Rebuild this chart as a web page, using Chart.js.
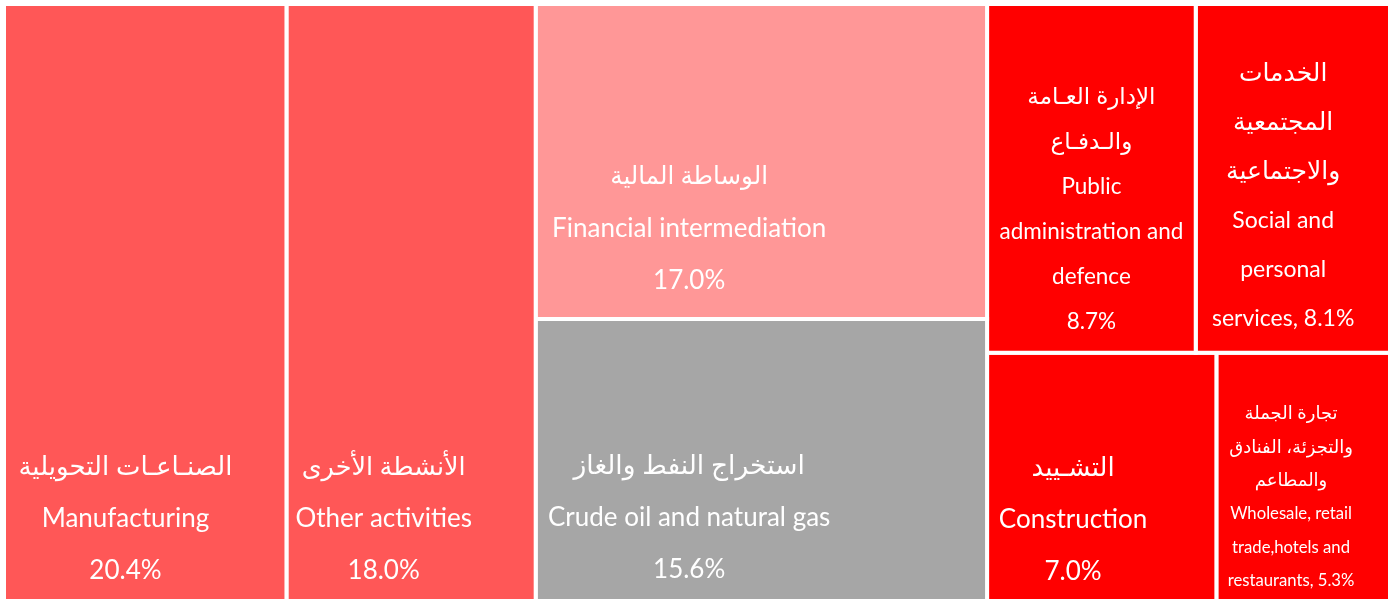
<!DOCTYPE html>
<html>
<head>
<meta charset="utf-8">
<script src="https://cdn.jsdelivr.net/npm/chart.js@4"></script>
<style>
  html, body { margin: 0; padding: 0; background: #ffffff; }
  #wrap { width: 1395px; height: 599px; position: relative; }
</style>
</head>
<body>
<div id="wrap"><canvas id="c"></canvas></div>
<script>
// ---------- data ----------
const categoriesEn = [
  ["Manufacturing"],
  ["Other activities"],
  ["Financial intermediation"],
  ["Crude oil and natural gas"],
  ["Public", "administration and", "defence"],
  ["Social and", "personal", "services,"],
  ["Construction"],
  ["Wholesale, retail", "trade,hotels and", "restaurants,"]
];
const categoriesAr = [
  ["الصنـاعـات التحويلية"],
  ["الأنشطة الأخرى"],
  ["الوساطة المالية"],
  ["استخراج النفط والغاز"],
  ["الإدارة العـامة", "والـدفـاع"],
  ["الخدمات", "المجتمعية", "والاجتماعية"],
  ["التشـييد"],
  ["تجارة الجملة", "والتجزئة، الفنادق", "والمطاعم"]
];
const shares = [20.4, 18.0, 17.0, 15.6, 8.7, 8.1, 7.0, 5.3];
// percentage appended on the last English line (true) or on its own line (false)
const shareInline = [false, false, false, false, false, true, false, true];
// grouping of the tiles: columns, then rows inside a column, then tiles inside a row
const layoutTree = [0, 1, [2, 3], [[4, 5], [6, 7]]];

// ---------- style ----------
const tileColors = ["#FF5757", "#FF5757", "#FF9797", "#A6A6A6", "#FF0000", "#FF0000", "#FF0000", "#FF0000"];
const labelFx = [0.43, 0.39, 0.34, 0.34, 0.50, 0.45, 0.375, 0.43];
const labelFy = [0.852, 0.852, 0.712, 0.687, 0.588, 0.55, 0.653, 0.565];
const lineGap = [52, 52, 52, 52, 45, 49, 52, 33.5];
const fontEn = [26, 26, 26, 26, 22.5, 23, 26, 16.7];
const fontAr = [26, 25.5, 24.5, 26.5, 23, 25, 26, 18];
const FONT = 'Lato, "DejaVu Sans", sans-serif';

// ---------- treemap layout (slice & dice by value sums) ----------
function nodeSum(n) { return Array.isArray(n) ? n.reduce((s, c) => s + nodeSum(c), 0) : shares[n]; }
const tiles = [];
function layout(node, x0, y0, x1, y1, horizontal) {
  if (!Array.isArray(node)) { tiles[node] = { x0, y0, x1, y1 }; return; }
  const total = nodeSum(node);
  let acc = 0;
  node.forEach(child => {
    const a = acc / total, b = (acc + nodeSum(child)) / total;
    acc += nodeSum(child);
    if (horizontal) layout(child, x0 + (x1 - x0) * a, y0, x0 + (x1 - x0) * b, y1, !horizontal);
    else layout(child, x0, y0 + (y1 - y0) * a, x1, y0 + (y1 - y0) * b, !horizontal);
  });
}
layout(layoutTree, 0, 0, 100, 100, true);

const datasets = tiles.map((t, i) => ({
  label: categoriesEn[i].join(' '),
  data: [
    { x: t.x0, y: t.y0 }, { x: t.x1, y: t.y0 }, { x: t.x1, y: t.y1 },
    { x: t.x0, y: t.y1 }, { x: t.x0, y: t.y0 }
  ],
  fill: 'shape',
  clip: false,
  backgroundColor: tileColors[i],
  borderColor: '#FFFFFF',
  borderWidth: 4,
  borderCapStyle: 'square',
  borderJoinStyle: 'miter',
  tension: 0,
  pointRadius: 0,
  pointHoverRadius: 0
}));

const labelPlugin = {
  id: 'tileLabels',
  afterDatasetsDraw(chart) {
    const ctx = chart.ctx;
    const xs = chart.scales.x, ys = chart.scales.y;
    ctx.save();
    ctx.fillStyle = '#FFFFFF';
    ctx.textAlign = 'center';
    ctx.textBaseline = 'middle';
    tiles.forEach((t, i) => {
      const px0 = xs.getPixelForValue(t.x0), px1 = xs.getPixelForValue(t.x1);
      const py0 = ys.getPixelForValue(t.y0), py1 = ys.getPixelForValue(t.y1);
      const cx = px0 + (px1 - px0) * labelFx[i];
      const cy = py0 + (py1 - py0) * labelFy[i];
      const pct = shares[i].toFixed(1) + '%';
      const lines = [];
      categoriesAr[i].forEach(s => lines.push({ s, ar: true }));
      const en = categoriesEn[i].slice();
      if (shareInline[i]) en[en.length - 1] = en[en.length - 1] + ' ' + pct;
      en.forEach(s => lines.push({ s, ar: false }));
      if (!shareInline[i]) lines.push({ s: pct, ar: false });
      const n = lines.length;
      lines.forEach((ln, k) => {
        const y = cy + (k - (n - 1) / 2) * lineGap[i];
        ctx.font = (ln.ar ? fontAr[i] : fontEn[i]) + 'px ' + FONT;
        ctx.direction = ln.ar ? 'rtl' : 'ltr';
        ctx.fillText(ln.s, cx, y);
      });
    });
    ctx.restore();
  }
};

new Chart(document.getElementById('c'), {
  type: 'line',
  data: { datasets },
  options: {
    responsive: true,
    maintainAspectRatio: false,
    animation: false,
    events: [],
    layout: { padding: { left: 4, top: 4, right: 5, bottom: 0 } },
    scales: {
      x: { type: 'linear', min: 0, max: 100, display: false },
      y: { type: 'linear', min: 0, max: 98.5, reverse: true, display: false }
    },
    plugins: { legend: { display: false }, tooltip: { enabled: false } }
  },
  plugins: [labelPlugin]
});
</script>
</body>
</html>
